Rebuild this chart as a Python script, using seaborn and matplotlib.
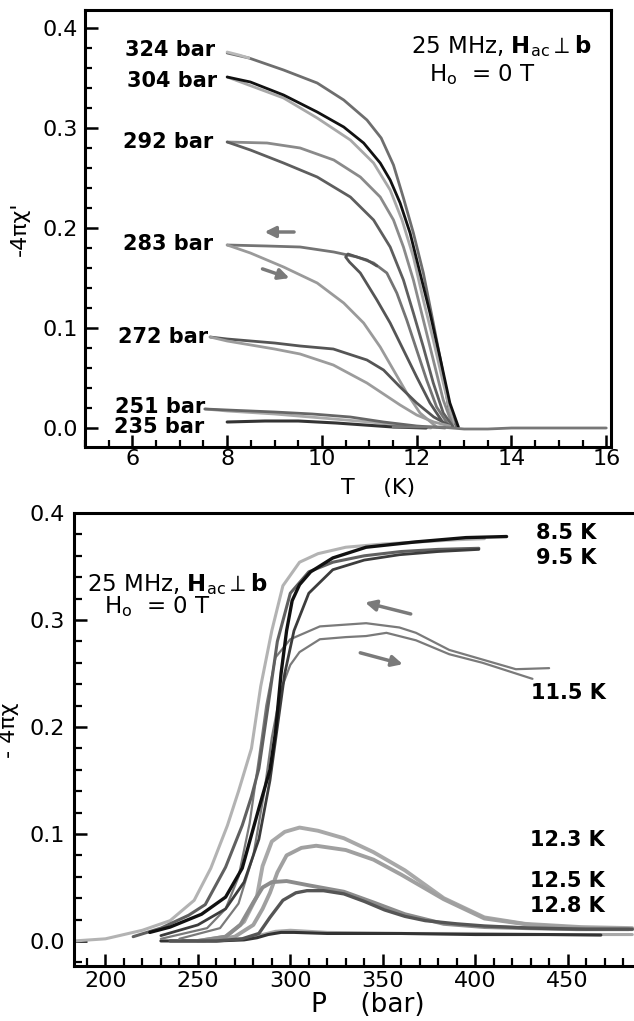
import matplotlib
matplotlib.use("Agg")
import seaborn as sns
from matplotlib import pyplot as plt
from matplotlib.ticker import MultipleLocator, FormatStrFormatter

# ---------------- top panel: -4*pi*chi' vs T at fixed pressure ----------------
t_324 = [8.0, 8.46, 9.19, 9.90, 10.46, 10.95, 11.25, 11.51, 11.72, 11.93, 12.14, 12.35, 12.53, 12.67, 12.84]
chi_324 = [0.375, 0.370, 0.358, 0.345, 0.328, 0.308, 0.290, 0.263, 0.230, 0.195, 0.155, 0.105, 0.061, 0.021, 0.001]
t_324_start = [8.0, 8.25, 8.46]
chi_324_start = [0.376, 0.373, 0.370]

t_304_a = [8.0, 8.49, 9.19, 9.90, 10.46, 10.88, 11.23, 11.44, 11.65, 11.86, 12.07, 12.28, 12.49, 12.70, 12.88]
chi_304_a = [0.351, 0.346, 0.333, 0.316, 0.301, 0.285, 0.265, 0.248, 0.225, 0.195, 0.155, 0.115, 0.071, 0.025, 0.001]
t_304_b = [8.0, 9.19, 9.90, 10.60, 11.09, 11.44, 11.69, 11.93, 12.14, 12.35, 12.56, 12.77]
chi_304_b = [0.351, 0.330, 0.310, 0.288, 0.265, 0.238, 0.208, 0.171, 0.128, 0.088, 0.045, 0.005]

t_292_a = [8.0, 8.84, 9.54, 10.25, 10.81, 11.23, 11.51, 11.72, 11.93, 12.14, 12.35, 12.56, 12.77]
chi_292_a = [0.286, 0.285, 0.280, 0.268, 0.251, 0.231, 0.208, 0.181, 0.148, 0.108, 0.068, 0.028, 0.001]
t_292_b = [8.0, 8.49, 9.19, 9.90, 10.60, 11.09, 11.44, 11.72, 11.93, 12.14, 12.35, 12.56, 12.77]
chi_292_b = [0.286, 0.278, 0.265, 0.251, 0.231, 0.208, 0.181, 0.148, 0.115, 0.081, 0.045, 0.015, 0.001]

t_283_a = [8.0, 8.84, 9.54, 10.25, 10.74, 11.09, 11.37, 11.58, 11.79, 12.0, 12.21, 12.42, 12.70]
chi_283_a = [0.183, 0.182, 0.181, 0.176, 0.171, 0.165, 0.155, 0.135, 0.108, 0.078, 0.048, 0.021, 0.001]
t_283_b = [8.0, 8.49, 9.19, 9.90, 10.46, 10.88, 11.23, 11.51, 11.79, 12.07, 12.42]
chi_283_b = [0.183, 0.175, 0.161, 0.145, 0.125, 0.105, 0.081, 0.058, 0.035, 0.015, 0.001]
t_283_loop = [12.56, 12.28, 12.0, 11.72, 11.44, 11.16, 10.81, 10.58, 10.50, 10.55, 10.74, 10.95, 11.16]
chi_283_loop = [0.005, 0.025, 0.051, 0.078, 0.105, 0.128, 0.155, 0.166, 0.171, 0.174, 0.171, 0.168, 0.162]

t_272_a = [7.64, 8.0, 8.5, 9.0, 9.54, 10.24, 10.95, 11.3, 11.65, 12.0, 12.36, 12.71]
chi_272_a = [0.091, 0.089, 0.087, 0.085, 0.082, 0.079, 0.068, 0.058, 0.041, 0.025, 0.011, 0.002]
t_272_b = [7.64, 8.0, 8.5, 9.0, 9.54, 10.24, 10.95, 11.3, 11.65, 12.0, 12.36, 12.70]
chi_272_b = [0.091, 0.087, 0.083, 0.079, 0.074, 0.063, 0.045, 0.034, 0.023, 0.013, 0.006, 0.002]

t_251_a = [7.53, 8.0, 9.0, 9.8, 10.6, 11.3, 12.0, 12.6]
chi_251_a = [0.019, 0.018, 0.016, 0.014, 0.011, 0.006, 0.002, 0.0]
t_251_b = [7.53, 8.0, 9.0, 10.0, 11.0, 11.6, 12.3]
chi_251_b = [0.019, 0.017, 0.014, 0.010, 0.006, 0.003, 0.0]

t_235 = [8.0, 8.8, 9.5, 10.3, 10.9, 11.5, 12.2]
chi_235 = [0.006, 0.007, 0.007, 0.005, 0.003, 0.001, 0.0]
t_base = [11.5, 12.5, 13.0, 13.5, 14.0, 14.5, 15.0, 15.5, 16.0]
chi_base = [0.001, 0.001, -0.001, -0.001, 0.0, 0.0, 0.0, 0.0, 0.0]

top_labels = ["324 bar", "304 bar", "292 bar", "283 bar", "272 bar", "251 bar", "235 bar"]
top_label_t = [7.74, 7.78, 7.70, 7.70, 7.59, 7.53, 7.51]
top_label_chi = [0.372, 0.341, 0.280, 0.178, 0.085, 0.015, -0.005]

# ---------------- bottom panel: -4*pi*chi vs P at fixed temperature ----------------
p_85_a = [183, 200, 220, 235, 248, 257, 266, 272, 279, 284, 290, 296, 305, 315, 330, 350, 370, 390, 405]
chi_85_a = [0.0, 0.002, 0.010, 0.019, 0.038, 0.068, 0.108, 0.140, 0.180, 0.238, 0.290, 0.332, 0.354, 0.362, 0.368, 0.371, 0.373, 0.375, 0.376]
p_85_b = [224, 235, 252, 265, 274, 283, 289, 292, 295, 298, 301, 305, 311, 323, 341, 368, 395, 417]
chi_85_b = [0.008, 0.013, 0.025, 0.041, 0.068, 0.124, 0.160, 0.195, 0.250, 0.290, 0.318, 0.333, 0.345, 0.358, 0.368, 0.373, 0.377, 0.378]

p_95_a = [215, 230, 245, 254, 265, 274, 279, 283, 288, 293, 300, 310, 323, 340, 360, 380, 402]
chi_95_a = [0.004, 0.012, 0.024, 0.034, 0.069, 0.108, 0.135, 0.161, 0.220, 0.280, 0.325, 0.345, 0.354, 0.360, 0.364, 0.366, 0.367]
p_95_b = [230, 250, 265, 275, 283, 289, 293, 297, 302, 310, 323, 340, 359, 380, 402]
chi_95_b = [0.005, 0.015, 0.030, 0.055, 0.095, 0.150, 0.200, 0.250, 0.290, 0.325, 0.347, 0.356, 0.361, 0.364, 0.366]

p_115_a = [230, 255, 265, 272, 278, 283, 287, 292, 300, 316, 341, 359, 368, 386, 404, 422, 440]
chi_115_a = [0.002, 0.012, 0.030, 0.060, 0.110, 0.170, 0.220, 0.265, 0.282, 0.294, 0.297, 0.293, 0.288, 0.272, 0.263, 0.254, 0.255]
p_115_b = [240, 262, 272, 280, 286, 290, 295, 300, 305, 316, 330, 341, 352, 368, 386, 404, 431]
chi_115_b = [0.002, 0.012, 0.035, 0.080, 0.140, 0.190, 0.235, 0.258, 0.270, 0.282, 0.284, 0.285, 0.288, 0.281, 0.268, 0.260, 0.245]

p_123_a = [250, 265, 275, 282, 285, 290, 297, 305, 315, 329, 345, 362, 383, 405, 427, 457, 485]
chi_123_a = [0.0, 0.004, 0.018, 0.042, 0.070, 0.093, 0.102, 0.106, 0.103, 0.096, 0.083, 0.066, 0.040, 0.022, 0.016, 0.013, 0.012]
p_123_b = [255, 270, 280, 285, 289, 293, 298, 306, 314, 330, 345, 360, 383, 405, 430, 460, 485]
chi_123_b = [0.0, 0.004, 0.015, 0.030, 0.045, 0.064, 0.080, 0.087, 0.089, 0.085, 0.076, 0.062, 0.039, 0.021, 0.015, 0.012, 0.011]

p_125 = [250, 265, 273, 280, 285, 290, 298, 310, 329, 345, 362, 383, 405, 427, 455, 483]
chi_125 = [0.0, 0.004, 0.015, 0.036, 0.050, 0.055, 0.056, 0.052, 0.046, 0.036, 0.025, 0.016, 0.013, 0.012, 0.011, 0.011]
p_128 = [235, 260, 274, 283, 289, 296, 303, 309, 318, 329, 340, 351, 362, 373, 390, 405, 430, 460, 485]
chi_128 = [0.0, 0.0, 0.002, 0.007, 0.022, 0.038, 0.045, 0.047, 0.047, 0.044, 0.037, 0.029, 0.023, 0.019, 0.016, 0.014, 0.012, 0.011, 0.011]

p_tail_dark = [230, 260, 275, 282, 288, 295, 302, 320, 360, 400, 440, 468]
chi_tail_dark = [0.0, 0.0, 0.001, 0.003, 0.006, 0.008, 0.008, 0.007, 0.007, 0.006, 0.006, 0.0055]
p_tail_light = [250, 275, 285, 292, 300, 320, 360, 400, 440, 485]
chi_tail_light = [0.0, 0.002, 0.006, 0.009, 0.010, 0.008, 0.007, 0.007, 0.006, 0.006]

bottom_labels = ["8.5 K", "9.5 K", "11.5 K", "12.3 K", "12.5 K", "12.8 K"]
bottom_label_p = [433, 433, 430.4, 429.6, 429.6, 429.6]
bottom_label_chi = [0.376, 0.352, 0.226, 0.0886, 0.050, 0.027]

sns.set_style("ticks")
plt.rcParams["font.family"] = ["DejaVu Sans"]
plt.rcParams["mathtext.fontset"] = "dejavusans"
plt.rcParams["axes.edgecolor"] = "black"
plt.rcParams["axes.linewidth"] = 2.2
plt.rcParams["text.color"] = "black"
plt.rcParams["axes.labelcolor"] = "black"
plt.rcParams["xtick.color"] = "black"
plt.rcParams["ytick.color"] = "black"

fig = plt.figure(figsize=(6.34, 10.21), dpi=100)
ax1 = fig.add_axes([85 / 634, 574 / 1021, 526 / 634, 437 / 1021])
ax2 = fig.add_axes([74 / 634, 55 / 1021, 562 / 634, 453 / 1021])

top_curves = [
    (t_324, chi_324, "#6e6e6e", 2.0),
    (t_324_start, chi_324_start, "#b8b8b8", 2.0),
    (t_304_b, chi_304_b, "#a8a8a8", 2.0),
    (t_304_a, chi_304_a, "#111111", 2.0),
    (t_292_a, chi_292_a, "#8a8a8a", 2.0),
    (t_292_b, chi_292_b, "#5e5e5e", 2.0),
    (t_283_a, chi_283_a, "#747474", 2.0),
    (t_283_b, chi_283_b, "#9a9a9a", 2.0),
    (t_283_loop, chi_283_loop, "#555555", 2.0),
    (t_272_a, chi_272_a, "#555555", 2.0),
    (t_272_b, chi_272_b, "#9c9c9c", 2.0),
    (t_251_b, chi_251_b, "#aaaaaa", 2.0),
    (t_251_a, chi_251_a, "#666666", 2.0),
    (t_235, chi_235, "#333333", 2.2),
    (t_base, chi_base, "#777777", 2.0),
]
for x, y, c, w in top_curves:
    sns.lineplot(x=x, y=y, ax=ax1, color=c, lw=w, sort=False, estimator=None)

bottom_curves = [
    (p_tail_light, chi_tail_light, "#a8a8a8", 2.2),
    (p_tail_dark, chi_tail_dark, "#333333", 2.2),
    (p_123_a, chi_123_a, "#a8a8a8", 2.8),
    (p_123_b, chi_123_b, "#a0a0a0", 2.8),
    (p_125, chi_125, "#8c8c8c", 2.8),
    (p_128, chi_128, "#555555", 2.4),
    (p_115_a, chi_115_a, "#7a7a7a", 1.6),
    (p_115_b, chi_115_b, "#7a7a7a", 1.6),
    (p_85_a, chi_85_a, "#b3b3b3", 2.2),
    (p_95_a, chi_95_a, "#606060", 2.2),
    (p_95_b, chi_95_b, "#3c3c3c", 2.0),
    (p_85_b, chi_85_b, "#111111", 2.4),
]
for x, y, c, w in bottom_curves:
    sns.lineplot(x=x, y=y, ax=ax2, color=c, lw=w, sort=False, estimator=None)

# axes
ax1.set_xlim(5, 16.1)
ax1.set_ylim(-0.019, 0.418)
ax1.xaxis.set_major_locator(MultipleLocator(2))
ax1.xaxis.set_minor_locator(MultipleLocator(0.5))
ax1.yaxis.set_major_locator(MultipleLocator(0.1))
ax1.yaxis.set_minor_locator(MultipleLocator(0.02))
ax1.yaxis.set_major_formatter(FormatStrFormatter("%.1f"))
ax1.tick_params(axis="both", which="both", direction="in", top=False, right=False, color="black")
ax1.tick_params(which="major", length=9, width=1.8, labelsize=16)
ax1.tick_params(which="minor", length=5, width=1.6)
ax1.tick_params(axis="y", which="major", pad=5)
ax1.tick_params(axis="x", which="major", pad=1.5)
ax1.set_xlabel("T    (K)", fontsize=16)
ax1.xaxis.set_label_coords(0.557, -0.072)
ax1.set_ylabel("-4πχ'", fontsize=16)
ax1.yaxis.set_label_coords(-0.105, 0.5)

ax2.set_xlim(183, 487)
ax2.set_ylim(-0.0234, 0.4)
ax2.xaxis.set_major_locator(MultipleLocator(50))
ax2.xaxis.set_minor_locator(MultipleLocator(10))
ax2.yaxis.set_major_locator(MultipleLocator(0.1))
ax2.yaxis.set_minor_locator(MultipleLocator(0.02))
ax2.yaxis.set_major_formatter(FormatStrFormatter("%.1f"))
ax2.spines["right"].set_visible(False)
ax2.tick_params(axis="both", which="both", direction="in", top=False, right=False, color="black")
ax2.tick_params(which="major", length=9, width=1.8, labelsize=16)
ax2.tick_params(which="minor", length=5.5, width=1.6)
ax2.tick_params(axis="y", which="major", pad=6.5)
ax2.tick_params(axis="x", which="major", pad=3.5)
ax2.set_xlabel("P    (bar)", fontsize=19)
ax2.xaxis.set_label_coords(0.523, -0.058)
ax2.set_ylabel("- 4πχ", fontsize=16)
ax2.yaxis.set_label_coords(-0.098, 0.52)

# curve labels
for lab, x, y in zip(top_labels, top_label_t, top_label_chi):
    ax1.text(x, y, lab, ha="right", va="baseline", fontsize=15, fontweight="bold")
for lab, x, y in zip(bottom_labels, bottom_label_p, bottom_label_chi):
    ax2.text(x, y, lab, ha="left", va="baseline", fontsize=15, fontweight="bold")

# conditions
ax1.text(13.78, 0.375, r"25 MHz, $\mathbf{H}_{\mathrm{ac}}\perp\mathbf{b}$", ha="center", va="baseline", fontsize=16.5)
ax1.text(13.38, 0.347, r"H$_{\mathrm{o}}$  = 0 T", ha="center", va="baseline", fontsize=16.5)
ax2.text(238.8, 0.327, r"25 MHz, $\mathbf{H}_{\mathrm{ac}}\perp\mathbf{b}$", ha="center", va="baseline", fontsize=16.5)
ax2.text(228, 0.306, r"H$_{\mathrm{o}}$  = 0 T", ha="center", va="baseline", fontsize=16.5)

# sweep direction arrows
arrow = dict(arrowstyle="-|>", color="#7a7a7a", lw=2.5, mutation_scale=16)
ax1.annotate("", xy=(8.73, 0.196), xytext=(9.47, 0.196), arrowprops=arrow)
ax1.annotate("", xy=(9.37, 0.149), xytext=(8.69, 0.160), arrowprops=arrow)
ax2.annotate("", xy=(339, 0.317), xytext=(366.6, 0.305), arrowprops=arrow)
ax2.annotate("", xy=(362.3, 0.258), xytext=(336.4, 0.270), arrowprops=arrow)

fig.savefig("out.png", dpi=100)
